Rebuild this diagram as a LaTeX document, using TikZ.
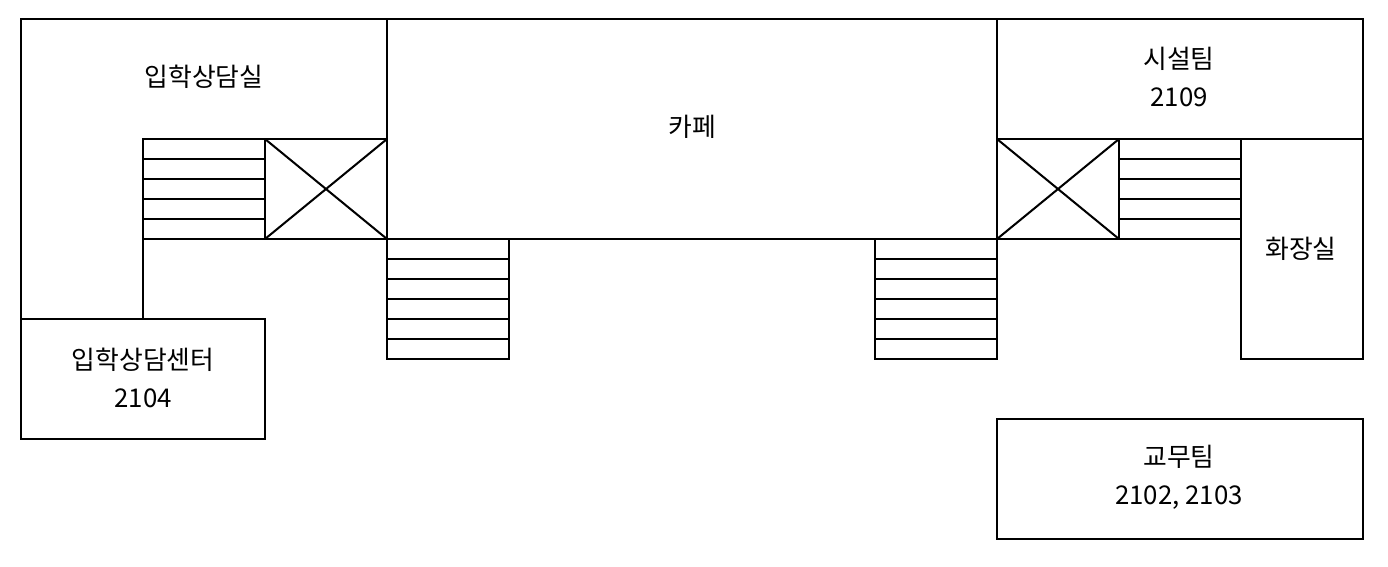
\documentclass[tikz,border=0pt]{standalone}
\usepackage{fontspec}
\setmainfont{Noto Sans CJK KR}
\usetikzlibrary{positioning}
\tikzset{
  room/.style={draw=black, line width=1.15pt, fill=white, outer sep=0pt, inner sep=0pt},
  label/.style={align=center, inner sep=0pt, font=\fontsize{14.7}{21.5}\selectfont},
  wall/.style={draw=black, line width=1.15pt}
}
% a flight of steps: x, top y, number of treads
\newcommand{\stairs}[3]{
  \foreach \k in {1,...,#3} {
    \draw[wall] (#1,{#2+(\k-1)*20}) rectangle (#1+122,{#2+\k*20});
  }
}
% lift shaft with crossed diagonals
\newcommand{\liftshaft}[1]{
  \draw[wall] (#1,139) rectangle (#1+122,239);
  \draw[wall] (#1,139) -- (#1+122,239);
  \draw[wall] (#1+122,139) -- (#1,239);
}
\begin{document}
\begin{tikzpicture}[x=0.02cm,y=-0.02cm]
    \useasboundingbox (0,0) rectangle (1388,566);

    % left consulting room
    \draw[wall] (143,319) -- (143,139) -- (387,139) -- (387,19) -- (21,19) -- (21,319);
    \node[label] (consult) at (204,77) {입학상담실};

    % cafe and the rooms on the right
    \node[room, minimum width=12.2cm, minimum height=4.4cm, anchor=north west] (cafe) at (387,19) {};
    \node[label] (cafelabel) at (692,127) {카페};
    \node[room, minimum width=7.32cm, minimum height=2.4cm, anchor=north west] (facility) at (997,19) {};
    \node[label] (facilitylabel) at (1179,77) {시설팀\\2109};
    \node[room, minimum width=2.44cm, minimum height=4.4cm, anchor=north west] (toilet) at (1241,139) {};
    \node[label] (toiletlabel) at (1301,249) {화장실};
    \node[room, minimum width=4.88cm, minimum height=2.4cm, anchor=north west] (center) at (21,319) {};
    \node[label] (centerlabel) at (143,378) {입학상담센터\\2104};
    \node[room, minimum width=7.32cm, minimum height=2.4cm, anchor=north west] (academic) at (997,419) {};
    \node[label] (academiclabel) at (1179,477) {교무팀\\2102, 2103};

    % stairs and lifts
    \stairs{143}{139}{5}
    \liftshaft{265}
    \stairs{387}{239}{6}
    \stairs{875}{239}{6}
    \liftshaft{997}
    \stairs{1119}{139}{5}
\end{tikzpicture}
\end{document}
